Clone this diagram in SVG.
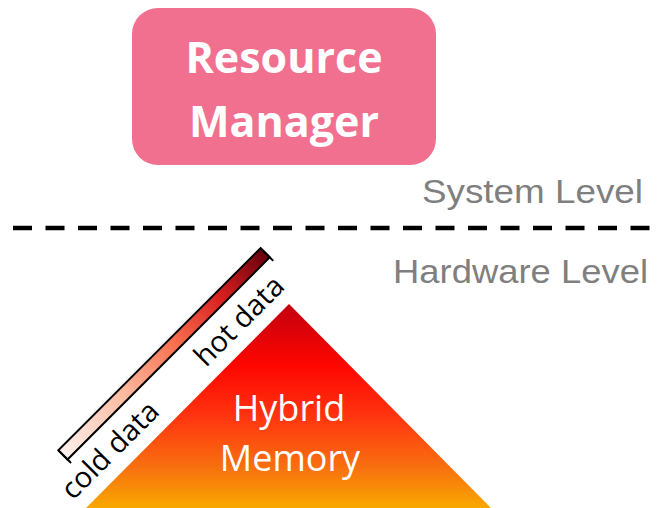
<svg xmlns="http://www.w3.org/2000/svg" width="657" height="508" viewBox="0 0 657 508">
  <style>
    .level { font-family: "Liberation Sans", Arial, sans-serif; font-size: 34px; fill: #7f7f7f; }
    .title { font-family: "Open Sans", "Noto Sans", sans-serif; font-weight: bold; font-size: 43px; fill: #ffffff; text-anchor: middle; }
    .mem { font-family: "Open Sans", "Noto Sans", sans-serif; font-size: 36px; fill: #ffffff; text-anchor: middle; }
    .scale { font-family: "Open Sans", "Noto Sans", sans-serif; font-size: 29px; fill: #000000; }
  </style>
  <defs>
    <linearGradient id="heat" x1="0" y1="304" x2="0" y2="508" gradientUnits="userSpaceOnUse">
      <stop offset="0" stop-color="#c2000f"/>
      <stop offset="0.3" stop-color="#fd0600"/>
      <stop offset="0.55" stop-color="#ff3410"/>
      <stop offset="0.8" stop-color="#f8700f"/>
      <stop offset="1" stop-color="#f9a800"/>
    </linearGradient>
    <linearGradient id="reds" x1="0" y1="0" x2="286" y2="0" gradientUnits="userSpaceOnUse">
      <stop offset="0" stop-color="#fff0ec"/>
      <stop offset="0.3" stop-color="#fcbba1"/>
      <stop offset="0.55" stop-color="#f9714f"/>
      <stop offset="0.78" stop-color="#d8201f"/>
      <stop offset="1" stop-color="#68000d"/>
    </linearGradient>
  </defs>

  <!-- resource manager box -->
  <g id="resource-manager">
    <rect x="132" y="8" width="304" height="157" rx="26" ry="26" fill="#f2708f"/>
    <text class="title" x="284" y="73">Resource</text>
    <text class="title" x="284" y="137">Manager</text>
  </g>

  <!-- level labels and divider -->
  <g id="levels">
    <text class="level" x="422" y="203" textLength="221" lengthAdjust="spacingAndGlyphs">System Level</text>
    <line x1="13" y1="228" x2="650" y2="228" stroke="#000000" stroke-width="4.5" stroke-dasharray="19 13.5"/>
    <text class="level" x="393" y="283" textLength="255" lengthAdjust="spacingAndGlyphs">Hardware Level</text>
  </g>

  <!-- hybrid memory pyramid -->
  <g id="hybrid-memory">
    <polygon points="289,304 491,508 86,508" fill="url(#heat)"/>
    <text class="mem" x="289" y="421">Hybrid</text>
    <text class="mem" x="290" y="471">Memory</text>
  </g>

  <!-- data temperature scale bar -->
  <g id="temperature-scale">
    <g transform="translate(64,456) rotate(-45)">
      <rect x="0" y="-8" width="286" height="13" fill="url(#reds)" stroke="#000000" stroke-width="2"/>
      <line x1="0" y1="-8" x2="0" y2="10" stroke="#000000" stroke-width="2"/>
      <line x1="286" y1="-8" x2="286" y2="10" stroke="#000000" stroke-width="2"/>
    </g>
    <text class="scale" transform="translate(73,501) rotate(-45)">cold data</text>
    <text class="scale" transform="translate(206,368) rotate(-45)">hot data</text>
  </g>
</svg>
